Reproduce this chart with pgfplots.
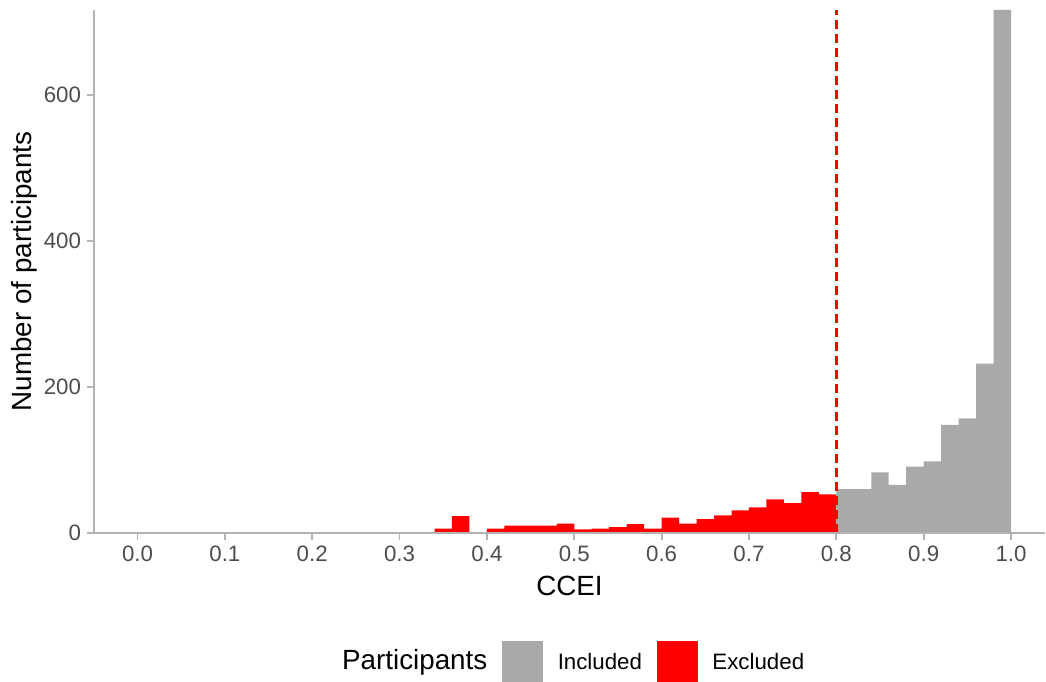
\documentclass[border=0pt]{standalone}
\usepackage{pgfplots}
\pgfplotsset{compat=1.18}
\usepackage{fontspec}
\setmainfont{Liberation Sans}
\definecolor{barg}{HTML}{A9A9A9}
\definecolor{axg}{HTML}{B3B3B3}
\definecolor{tickc}{HTML}{4D4D4D}
\newcommand{\tickfont}{\fontsize{22.3bp}{26bp}\selectfont}
\newcommand{\titlefont}{\fontsize{27.8bp}{32bp}\selectfont}

\begin{document}
\begin{tikzpicture}
\useasboundingbox (0,0) rectangle (1046bp,682bp);
\begin{axis}[
  at={(94bp,149bp)}, anchor=south west,
  scale only axis, width=951bp, height=523bp,
  xmin=-0.0498, xmax=1.0389, ymin=0, ymax=716,
  axis x line*=bottom, axis y line*=left,
  axis line style={draw=axg, line width=1.8bp, -},
  axis on top=true,
  xtick={0,0.1,0.2,0.3,0.4,0.5,0.6,0.7,0.8,0.9,1.0},
  xticklabels={0.0,0.1,0.2,0.3,0.4,0.5,0.6,0.7,0.8,0.9,1.0},
  ytick={0,200,400,600},
  /pgf/number format/assume math mode=true,
  tick align=outside, major tick length=7bp,
  tick style={draw=axg, line width=1.8bp},
  tick label style={font=\tickfont, text=tickc, inner sep=0pt},
  xticklabel style={anchor=north, yshift=-5.6bp},
  yticklabel style={anchor=east, xshift=-5.8bp},
  label style={font=\titlefont, inner sep=0pt},
  xlabel={CCEI},
  ylabel={Number of participants},
  xlabel style={at={(axis description cs:0.5,-0.1200)}, anchor=base},
  ylabel style={at={(axis description cs:-0.0652,0.5)}, anchor=base},
  legend columns=-1,
  legend style={draw=none, fill=none, inner sep=0pt, column sep=15bp,
    at={(axis description cs:0.7470,-0.2447)}, anchor=east,
    font=\tickfont, nodes={inner sep=0pt, anchor=base west}},
]
\addplot[ybar interval, fill=red, draw=none, forget plot] coordinates {
(0.34,6)(0.36,23)(0.38,0)(0.40,6)(0.42,10)(0.44,10)(0.46,10)(0.48,13)
(0.50,5)(0.52,6)(0.54,8)(0.56,12)(0.58,6)(0.60,21)(0.62,13)(0.64,19)
(0.66,24)(0.68,31)(0.70,35)(0.72,46)(0.74,41)(0.76,56)(0.78,53)(0.80,0)};
\addplot[ybar interval, fill=barg, draw=none, forget plot] coordinates {
(0.80,60)(0.82,60)(0.84,83)(0.86,66)(0.88,91)(0.90,98)(0.92,148)
(0.94,157)(0.96,232)(0.98,716)(1.00,0)};
\addplot[red, line width=2.4bp, dash pattern=on 9bp off 5bp, forget plot]
  coordinates {(0.8,0)(0.8,716)};
\addlegendimage{empty legend}
\addlegendentry{\titlefont Participants}
\addlegendimage{legend image code/.code={\fill[barg] (0bp,-11bp) rectangle (40bp,29bp);}}
\addlegendentry{Included}
\addlegendimage{legend image code/.code={\fill[red] (0bp,-11bp) rectangle (40bp,29bp);}}
\addlegendentry{Excluded}
\end{axis}
\end{tikzpicture}
\end{document}
